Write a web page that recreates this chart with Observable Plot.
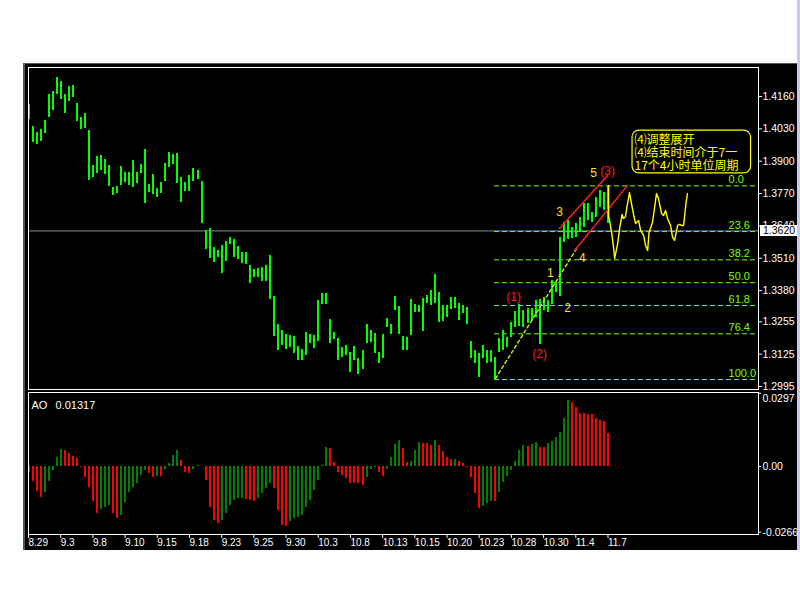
<!DOCTYPE html>
<html><head><meta charset="utf-8">
<script src="https://cdn.jsdelivr.net/npm/d3@7"></script>
<script src="https://cdn.jsdelivr.net/npm/@observablehq/plot@0.6"></script>
<style>
html,body{margin:0;padding:0;background:#fff;width:800px;height:600px;overflow:hidden;}
#bg{position:absolute;left:23px;top:63px;width:774px;height:487px;background:#000;box-sizing:border-box;border-left:2px solid #55554a;border-top:1px solid #55554a;}
#strip{position:absolute;left:797px;top:0;width:3px;height:550px;background:#c8c8ee;}
#main{position:absolute;left:23px;top:63px;z-index:2;}
#ao{position:absolute;left:23px;top:390px;z-index:1;}
</style></head><body>
<div id="bg"></div><div id="strip"></div>
<div id="ao"></div><div id="main"></div>
<script>
// ---- data ----
const highs = [1.4128,1.4039,1.4017,1.4026,1.4064,1.4168,1.4180,1.4236,1.4220,1.4167,
1.4200,1.4204,1.4132,1.4074,1.4093,1.4023,1.3883,1.3918,1.3923,1.3907,
1.3882,1.3794,1.3800,1.3879,1.3855,1.3855,1.3903,1.3855,1.3887,1.3948,
1.3806,1.3847,1.3790,1.3815,1.3891,1.3935,1.3927,1.3931,1.3835,1.3815,
1.3843,1.3871,1.3863,1.3819,1.3622,1.3630,1.3553,1.3541,1.3561,1.3578,
1.3594,1.3586,1.3557,1.3533,1.3533,1.3481,1.3465,1.3468,1.3473,1.3481,
1.3521,1.3357,1.3244,1.3220,1.3204,1.3200,1.3196,1.3156,1.3142,1.3212,
1.3204,1.3200,1.3339,1.3370,1.3367,1.3265,1.3212,1.3188,1.3153,1.3160,
1.3133,1.3156,1.3108,1.3140,1.3244,1.3220,1.3207,1.3133,1.3204,1.3268,
1.3244,1.3357,1.3316,1.3197,1.3191,1.3345,1.3324,1.3322,1.3347,1.3361,
1.3381,1.3445,1.3373,1.3322,1.3322,1.3354,1.3354,1.3327,1.3320,1.3311,
1.3177,1.3140,1.3126,1.3159,1.3140,1.3140,1.3113,1.3187,1.3220,1.3193,
1.3253,1.3298,1.3324,1.3300,1.3307,1.3310,1.3341,1.3345,1.3354,1.3341,
1.3421,1.3414,1.3595,1.3655,1.3662,1.3635,1.3651,1.3675,1.3729,1.3729,
1.3695,1.3755,1.3782,1.3776,1.3802];
const lows = [1.4066,1.3976,1.3966,1.3980,1.4013,1.4074,1.4105,1.4167,1.4149,1.4093,
1.4141,1.4157,1.4058,1.4029,1.4031,1.3821,1.3833,1.3852,1.3864,1.3848,
1.3800,1.3762,1.3769,1.3804,1.3815,1.3804,1.3796,1.3812,1.3852,1.3731,
1.3776,1.3766,1.3753,1.3772,1.3820,1.3876,1.3887,1.3812,1.3735,1.3778,
1.3779,1.3817,1.3828,1.3650,1.3544,1.3508,1.3493,1.3514,1.3448,1.3497,
1.3565,1.3512,1.3504,1.3488,1.3485,1.3410,1.3432,1.3432,1.3417,1.3418,
1.3343,1.3196,1.3140,1.3160,1.3142,1.3153,1.3129,1.3099,1.3099,1.3120,
1.3169,1.3146,1.3175,1.3324,1.3324,1.3167,1.3183,1.3099,1.3113,1.3120,
1.3052,1.3099,1.3043,1.3062,1.3167,1.3173,1.3126,1.3089,1.3106,1.3233,
1.3204,1.3300,1.3204,1.3140,1.3140,1.3201,1.3294,1.3292,1.3217,1.3330,
1.3320,1.3330,1.3253,1.3257,1.3271,1.3303,1.3307,1.3260,1.3289,1.3244,
1.3106,1.3089,1.3032,1.3106,1.3086,1.3093,1.3019,1.3133,1.3140,1.3153,
1.3193,1.3233,1.3236,1.3233,1.3247,1.3260,1.3273,1.3164,1.3300,1.3294,
1.3324,1.3374,1.3357,1.3575,1.3584,1.3588,1.3595,1.3615,1.3635,1.3662,
1.3655,1.3675,1.3715,1.3702,1.3650];
const aoValues = [-0.0023,-0.0059,-0.0100,-0.0124,-0.0104,-0.0059,-0.0016,0.0038,0.0069,0.0065,
0.0051,0.0042,0.0031,-0.0003,-0.0046,-0.0084,-0.0140,-0.0192,-0.0176,-0.0165,
-0.0158,-0.0192,-0.0212,-0.0198,-0.0144,-0.0104,-0.0084,-0.0068,-0.0036,-0.0016,
-0.0030,-0.0043,-0.0041,-0.0042,-0.0014,0.0014,0.0045,0.0065,0.0024,-0.0023,
-0.0030,-0.0014,0.0003,-0.0001,-0.0057,-0.0165,-0.0219,-0.0230,-0.0219,-0.0192,
-0.0158,-0.0138,-0.0131,-0.0130,-0.0132,-0.0138,-0.0140,-0.0131,-0.0111,-0.0090,
-0.0070,-0.0090,-0.0178,-0.0239,-0.0243,-0.0221,-0.0212,-0.0205,-0.0198,-0.0165,
-0.0138,-0.0097,-0.0057,0.0005,0.0078,0.0072,0.0018,-0.0023,-0.0036,-0.0050,
-0.0068,-0.0069,-0.0070,-0.0077,-0.0043,-0.0014,-0.0005,-0.0023,-0.0041,-0.0011,
0.0038,0.0089,0.0105,0.0072,0.0018,0.0022,0.0065,0.0099,0.0095,0.0092,
0.0085,0.0105,0.0085,0.0061,0.0038,0.0027,0.0028,0.0022,0.0014,-0.0002,
-0.0046,-0.0111,-0.0171,-0.0162,-0.0151,-0.0140,-0.0141,-0.0104,-0.0063,-0.0041,
-0.0016,0.0022,0.0065,0.0085,0.0081,0.0089,0.0099,0.0078,0.0077,0.0095,
0.0103,0.0119,0.0139,0.0193,0.0268,0.0261,0.0240,0.0216,0.0214,0.0212,
0.0210,0.0193,0.0186,0.0184,0.0132];
const dateLabels = ["8.29","9.3","9.8","9.10","9.15","9.18","9.23","9.25","9.30","10.3",
"10.8","10.13","10.15","10.20","10.23","10.28","10.30","11.4","11.7"];
const dateTicks = [0,16,32,48,64,80,96,112,128,144,160,176,192,208,224,240,256,272,288];
const priceTicks = [1.4160,1.4030,1.3900,1.3770,1.3640,1.3510,1.3380,1.3255,1.3125,1.2995];
const aoTicks = [0.0297, 0, -0.0266];
const currentPrice = 1.3620;
const aoLast = "0.01317";

const fibLevels = [0, 23.6, 38.2, 50, 61.8, 76.4, 100];
const fibHigh = 1.3801, fibLow = 1.3023;
const fibStartX = 231.6, fibEndX = 361.4, fibLabelX = 347.9;

const projX = [288.3,288.3,289.8,290.8,291.3,292.8,293.8,295.0,295.7,296.7,297.7,298.7,299.5,300.7,301.7,
303.2,304.2,305.7,306.7,307.7,308.4,310.1,311.1,312.1,313.1,314.6,315.6,316.6,317.6,319.1,
320.1,321.1,321.6,322.6,323.6,324.6,325.6,326.1,326.8,327.5];
const projY = [1.3803,1.3682,1.3614,1.3553,1.3509,1.3569,1.3630,1.3686,1.3670,1.3678,1.3730,1.3774,1.3738,1.3686,1.3650,
1.3662,1.3622,1.3602,1.3561,1.3541,1.3614,1.3654,1.3710,1.3770,1.3750,1.3690,1.3682,1.3702,1.3670,1.3642,
1.3594,1.3582,1.3602,1.3642,1.3646,1.3642,1.3642,1.3682,1.3734,1.3770];

const trendX = [232.1, 272.4], trendY = [1.3027, 1.3549];
const chanUpX = [263.9, 287.8], chanUpY = [1.3630, 1.3843];
const chanLoX = [271.4, 297.6], chanLoY = [1.3541, 1.3802];

const waveText = ["1","2","3","4","5","(1)","(2)","(3)"];
const waveX = [259.4, 267.9, 263.9, 275.3, 280.8, 241.1, 254.0, 287.8];
const waveY = [1.3449, 1.3308, 1.3694, 1.3509, 1.3851, 1.3353, 1.3124, 1.3859];
const waveColor = ["#ffe21c","#ffe21c","#ffe21c","#ffe21c","#ffe21c","#ff1e1e","#ff1e1e","#ff1e1e"];

const noteLines = ["⑷调整展开", "⑷结束时间介于7一", "17个4小时单位周期"];
const noteY = [1.3985, 1.3933, 1.3881];
const noteX = 301.2;
const noteBox = {x1: 300.2, x2: 359.1, y1: 1.4023, y2: 1.3851};

// ---- chart ----
const W = 777;
const xDomain = [0, 362.8];
const font = "'Liberation Sans Narrow','Liberation Sans',Arial,sans-serif";
const bars = highs.map((h, i) => ({x: 2 * i, high: h, low: lows[i]}));
const proj = projX.map((x, i) => ({x, y: projY[i]}));
const pts = (xs, ys) => xs.map((x, i) => ({x, y: ys[i]}));
const waves = waveText.map((t, i) => ({t, x: waveX[i], y: waveY[i], c: waveColor[i]}));
const fibPrice = d => fibHigh - d / 100 * (fibHigh - fibLow);

const main = Plot.plot({
  width: W, height: 335,
  marginLeft: 5, marginRight: 42, marginTop: 4, marginBottom: 9,
  style: {background: "transparent", color: "white", fontSize: "10.5px", fontFamily: font},
  x: {domain: xDomain, axis: null},
  y: {domain: [1.29829, 1.42765], axis: null},
  marks: [
    Plot.ruleY([currentPrice], {stroke: "#7d8d99", strokeWidth: 1}),
    Plot.ruleY(fibLevels, {y: fibPrice, x1: () => fibStartX, x2: () => fibEndX, stroke: "#7cfc00", strokeDasharray: "5,3"}),
    Plot.text(fibLevels, {x: () => fibLabelX, y: fibPrice, text: d => d.toFixed(1), textAnchor: "start", dy: -6, fill: "#7cfc00", fontSize: 11}),
    Plot.ruleX(bars, {x: "x", y1: "low", y2: "high", stroke: "#00ff00", strokeWidth: 2, shapeRendering: "crispEdges"}),
    Plot.line(pts(trendX, trendY), {x: "x", y: "y", stroke: "#b8ec10", strokeDasharray: "3,3"}),
    Plot.line(pts(chanUpX, chanUpY), {x: "x", y: "y", stroke: "#ff2020"}),
    Plot.line(pts(chanLoX, chanLoY), {x: "x", y: "y", stroke: "#ff2020"}),
    Plot.line(proj, {x: "x", y: "y", stroke: "#ffff00", strokeWidth: 1.4}),
    Plot.text(waves, {x: "x", y: "y", text: "t", fill: "c", fontSize: 12}),
    Plot.rect([noteBox], {x1: "x1", x2: "x2", y1: "y1", y2: "y2", rx: 7, fill: "black", stroke: "#ffff00", strokeWidth: 1.2}),
    Plot.text(noteLines, {x: () => noteX, y: (d, i) => noteY[i], text: d => d, textAnchor: "start", fill: "#ffff00", fontSize: 12, fontFamily: "'Noto Sans CJK SC',sans-serif"}),
    Plot.axisY(priceTicks, {anchor: "right", label: null, tickFormat: d => d.toFixed(4), tickSize: 3, tickPadding: 1, fontSize: 10.5}),
    Plot.frame({stroke: "white"})
  ]
});
// current price label box, placed through the plot's own y scale
{
  const yc = Math.round(main.scale("y").apply(currentPrice));
  const xr = W - 42 + 2;
  const g = d3.select(main).append("g").attr("text-anchor", "start");
  g.append("rect").attr("x", xr).attr("y", yc - 5).attr("width", 37).attr("height", 11).attr("fill", "white");
  g.append("text").attr("x", xr + 3).attr("y", yc + 4).attr("fill", "black").attr("text-anchor", "start")
    .attr("font-size", 10.5).attr("font-family", font).text(currentPrice.toFixed(4));
}
document.getElementById("main").append(main);

const aoData = aoValues.map((v, i) => ({x: 2 * i, v, c: i > 0 && v > aoValues[i - 1] ? "#008000" : "#ff0000"}));
const ao = Plot.plot({
  width: W, height: 160,
  marginLeft: 5, marginRight: 42, marginTop: 2, marginBottom: 16,
  style: {background: "transparent", color: "white", fontSize: "10.5px", fontFamily: font},
  x: {domain: xDomain, axis: null},
  y: {domain: [-0.02755, 0.0300], axis: null},
  marks: [
    Plot.ruleX(aoData, {x: "x", y1: 0, y2: "v", stroke: "c", strokeWidth: 2, shapeRendering: "crispEdges"}),
    Plot.axisX(dateTicks, {anchor: "bottom", label: null, tickFormat: d => dateLabels[dateTicks.indexOf(d)], tickSize: 4, tickPadding: 0, textAnchor: "start", fontSize: 10}),
    Plot.axisY(aoTicks, {anchor: "right", label: null, tickFormat: d => d === 0.0297 ? "" : (d === 0 ? "0.00" : d.toFixed(4)), tickSize: 2, tickPadding: 2, fontSize: 10.5}),
    Plot.axisY([aoTicks[0]], {anchor: "right", label: null, tickFormat: d => d.toFixed(4), tickSize: 0, tickPadding: 4, dy: 5, fontSize: 10.5}),
    Plot.text(["AO"], {frameAnchor: "top-left", text: d => d, dx: 3, dy: 9, textAnchor: "start", fill: "white", fontSize: 11}),
    Plot.text([aoLast], {frameAnchor: "top-left", text: d => d, dx: 27, dy: 9, textAnchor: "start", fill: "white", fontSize: 11}),
    Plot.frame({stroke: "white"})
  ]
});
document.getElementById("ao").append(ao);
</script>
</body></html>
